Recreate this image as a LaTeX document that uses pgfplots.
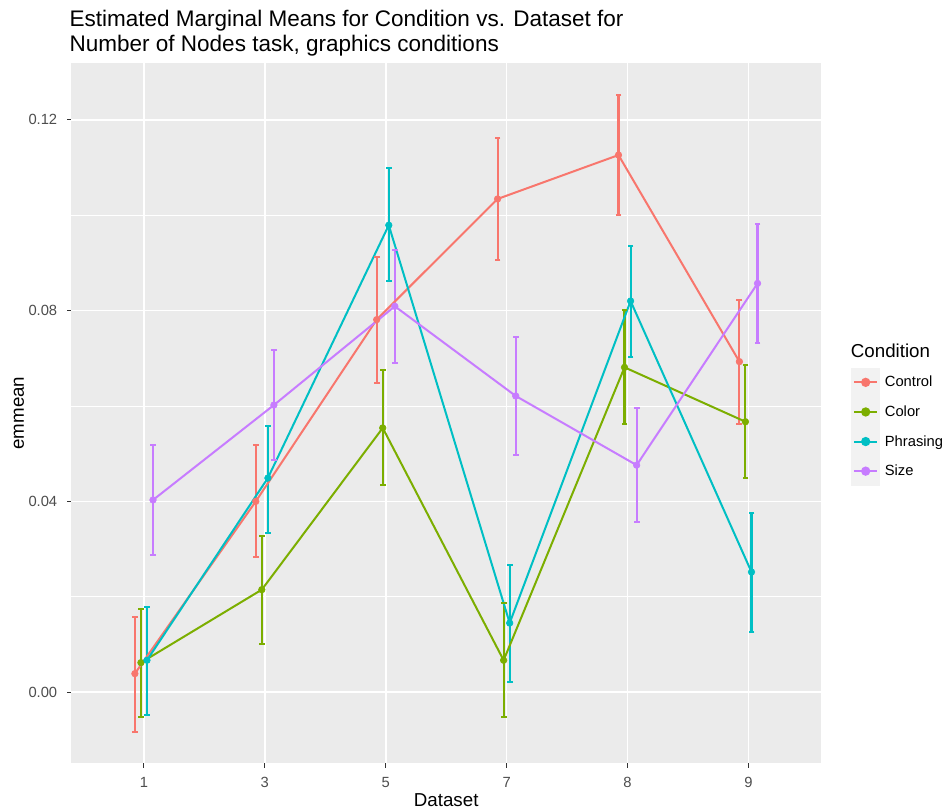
\documentclass[border=0pt]{standalone}
\usepackage{fontspec}
\setmainfont{Liberation Sans}
\usepackage{pgfplots}
\pgfplotsset{compat=1.18}
\usepackage{pgfplotstable}
\definecolor{cControl}{HTML}{F8766D}
\definecolor{cColor}{HTML}{7CAE00}
\definecolor{cPhrasing}{HTML}{00BFC4}
\definecolor{cSize}{HTML}{C77CFF}
\definecolor{panelbg}{HTML}{EBEBEB}
\definecolor{keybg}{HTML}{F2F2F2}
\definecolor{ticktext}{HTML}{4D4D4D}
\definecolor{tickmark}{HTML}{333333}

% x: category index (1,3,5,7,8,9 -> 0..5) with dodge offset; y = emmean
\pgfplotstableread{
x y
-0.075 0.0039
0.925 0.0400
1.925 0.0781
2.925 0.1034
3.925 0.1126
4.925 0.0693
}\tControl
\pgfplotstableread{
x y
-0.025 0.0062
0.975 0.0215
1.975 0.0554
2.975 0.0067
3.975 0.0681
4.975 0.0567
}\tColor
\pgfplotstableread{
x y
0.025 0.0067
1.025 0.0449
2.025 0.0979
3.025 0.0145
4.025 0.0820
5.025 0.0252
}\tPhrasing
\pgfplotstableread{
x y
0.075 0.0403
1.075 0.0602
2.075 0.0809
3.075 0.0621
4.075 0.0476
5.075 0.0857
}\tSize

\pgfplotsset{
  series/.style={color=#1, line width=2bp, mark=*, mark size=3.3bp,
    mark options={solid, line width=0.6bp, fill=#1, draw=#1}},
  ebar/.style={color=#1, line width=2.1bp, mark=-, mark size=2.9bp,
    mark options={solid, line width=2bp},
    unbounded coords=jump, forget plot},
}

\begin{document}
\begin{tikzpicture}
\useasboundingbox (-71.4bp,-48.7bp) rectangle (873.6bp,763.3bp);
\begin{axis}[
  at={(0,0)}, anchor=south west,
  width=749.6bp, height=700.3bp, scale only axis,
  xmin=-0.6, xmax=5.6, ymin=-0.0149, ymax=0.1319,
  axis background/.style={fill=panelbg},
  axis line style={draw=none},
  xtick={0,1,2,3,4,5}, xticklabels={1,3,5,7,8,9},
  ytick={0,0.04,0.08,0.12}, yticklabels={0.00,0.04,0.08,0.12},
  minor ytick={0.02,0.06,0.10},
  xmajorgrids, ymajorgrids, yminorgrids,
  major grid style={white, line width=1.6bp},
  minor grid style={white, line width=0.8bp},
  tick align=outside, xtick pos=lower, ytick pos=left,
  major tick length=4.3bp, minor tick length=0pt,
  tick style={tickmark, line width=1.1bp},
  ticklabel style={font=\fontsize{14.8}{17}\selectfont, text=ticktext, inner sep=0pt},
  xticklabel style={anchor=north, yshift=-9.7bp},
  yticklabel style={anchor=east, xshift=-9.7bp},
  legend cell align=left,
  legend style={at={(1.0396,0.5654)}, anchor=north west, draw=none, fill=none,
    inner xsep=0pt, inner ysep=0pt, row sep=0pt, column sep=4.4bp,
    nodes={inner sep=0pt, font=\fontsize{14.8}{17}\selectfont, text=black}},
  legend image code/.code={
    \fill[keybg] (0bp,-13.8bp) rectangle (27.6bp,13.8bp);
    \draw[line width=2bp] (2.3bp,0bp) -- (25.3bp,0bp);
    \fill (13.8bp,0bp) circle (3.6bp);
  },
]
% error bars (lower and upper limits)
\addplot[ebar=cControl] coordinates {
(-0.075,-0.0083) (-0.075,0.0158) (nan,nan)
(0.925,0.0283) (0.925,0.0518) (nan,nan)
(1.925,0.0648) (1.925,0.0913) (nan,nan)
(2.925,0.0907) (2.925,0.1162) (nan,nan)
(3.925,0.1001) (3.925,0.1252) (nan,nan)
(4.925,0.0562) (4.925,0.0823)};
\addplot[ebar=cColor] coordinates {
(-0.025,-0.0052) (-0.025,0.0174) (nan,nan)
(0.975,0.0102) (0.975,0.0328) (nan,nan)
(1.975,0.0434) (1.975,0.0676) (nan,nan)
(2.975,-0.0051) (2.975,0.0186) (nan,nan)
(3.975,0.0562) (3.975,0.0801) (nan,nan)
(4.975,0.0449) (4.975,0.0685)};
\addplot[ebar=cPhrasing] coordinates {
(0.025,-0.0047) (0.025,0.0179) (nan,nan)
(1.025,0.0333) (1.025,0.0559) (nan,nan)
(2.025,0.0861) (2.025,0.1098) (nan,nan)
(3.025,0.0022) (3.025,0.0266) (nan,nan)
(4.025,0.0703) (4.025,0.0936) (nan,nan)
(5.025,0.0127) (5.025,0.0376)};
\addplot[ebar=cSize] coordinates {
(0.075,0.0288) (0.075,0.0518) (nan,nan)
(1.075,0.0487) (1.075,0.0718) (nan,nan)
(2.075,0.0690) (2.075,0.0927) (nan,nan)
(3.075,0.0497) (3.075,0.0745) (nan,nan)
(4.075,0.0356) (4.075,0.0595) (nan,nan)
(5.075,0.0731) (5.075,0.0982)};
% means
\addplot[series=cControl] table[x=x, y=y]{\tControl};
\addlegendentry{Control}
\addplot[series=cColor] table[x=x, y=y]{\tColor};
\addlegendentry{Color}
\addplot[series=cPhrasing] table[x=x, y=y]{\tPhrasing};
\addlegendentry{Phrasing}
\addplot[series=cSize] table[x=x, y=y]{\tSize};
\addlegendentry{Size}
\end{axis}
\node[anchor=base west, inner sep=0pt, font=\fontsize{22.6}{26}\selectfont] at (-2bp,736.3bp) {Estimated Marginal Means for Condition vs. Dataset for};
\node[anchor=base west, inner sep=0pt, font=\fontsize{22.6}{26}\selectfont] at (-2bp,711.8bp) {Number of Nodes task, graphics conditions};
\node[rotate=90, anchor=base, inner sep=0pt, font=\fontsize{18.8}{22}\selectfont] at (-47.4bp,350.15bp) {emmean};
\node[anchor=base, inner sep=0pt, font=\fontsize{18.8}{22}\selectfont] at (374.8bp,-43.2bp) {Dataset};
\node[anchor=base west, inner sep=0pt, font=\fontsize{18.8}{22}\selectfont] at (779.3bp,405.3bp) {Condition};
\end{tikzpicture}
\end{document}
